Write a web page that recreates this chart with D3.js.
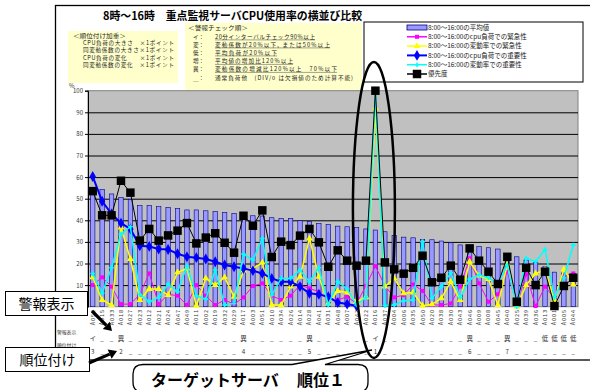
<!DOCTYPE html>
<html><head><meta charset="utf-8">
<script src="https://cdn.jsdelivr.net/npm/d3@7"></script>
<style>
body{margin:0;background:#fff}
svg{display:block}
text{font-family:"Noto Sans CJK JP","Noto Sans",sans-serif}
</style>
</head><body>
<svg id="c" width="590" height="390"></svg>
<script>
// ---------------- data ----------------
const servers = ["A052","A015","A033","A018","A027","A023","A012","A021","A024","A047","A049","A011","A002","A019","A032","A029","A017","A003","A051","A010","A034","A026","A014","A028","A041","A031","A048","A007","A042","A022","A016","A037","A004","A006","A035","A050","A020","A038","A030","A043","A046","A009","A008","A045","A040","A025","A039","A036","A013","A001","A005","A044"];
const avgLoad = [55,54.3,52.2,50.6,49.7,46.8,46.8,46.3,46,45.5,44.8,44.8,44.4,44,43.7,43.2,43,42.1,42,41.2,40.9,40.9,39.8,39.4,38.6,38.1,37.3,37,36.6,36,35.5,34.7,33,32.2,31.9,31.2,31,30.4,29.6,28.6,28.4,27.8,27.3,26.7,23.9,23.1,21.6,20.5,18.5,16,15.6,15.4];
const cpuUrgency = [10,13.6,9.3,1.2,1.2,5.7,15.4,1.2,5.7,5.1,0.8,10,5.1,0.8,3.1,1.2,4.3,9.6,10.8,5.1,3.1,5.1,10,8.5,6.9,3.1,3.1,4.6,1.5,9.7,18.8,9.7,4.3,5.4,10.3,7.3,0.8,0.8,1.5,9.3,22.4,10.8,2.3,5.7,16.2,0.8,15,0.3,9.3,3.9,14.2,15.4];
const varUrgency = [13.6,3.1,0.8,36.6,22.1,3.1,8.2,8.2,5.4,15.9,17.7,0.5,13.1,10,13.6,4.6,16.7,17.7,20.4,0.8,0.8,9.3,13.9,31.6,13.9,1.5,7.3,6.6,2.3,4.3,91.8,9.3,13.1,6.2,6.6,0.5,1.1,3.9,11.6,3.1,20.8,14.4,12.8,0.8,19.6,0,10,15.4,17,3.1,17.3,10.3];
const cpuImportance = [60.3,48.8,43,38.7,36,28.2,27.9,26.7,26.5,24.5,23.1,22.7,22.1,20.8,19.3,18.5,17.7,16.7,15.4,13.1,11.6,11.6,9.3,6.2,5.7,4.6,1.9,1.2,0.3,null,null,null,null,null,null,null,null,null,null,null,null,null,null,null,null,null,null,null,null,null,null,null];
const varImportance = [15.4,6.2,18,33.6,37,5.7,2.3,4.3,10.5,6.9,18.8,5.1,3.5,17,0.8,1.5,24.4,21.6,31.6,5.4,13.1,13.1,17,11.6,18,0.8,11.6,8.2,0.8,4.3,99,0.5,0.8,2.8,3.1,30.1,3.9,9.3,15.7,4.3,12.8,14.7,13.4,10.5,19.3,0,22.4,20.8,26.5,4.2,13.4,28.5];
const priority = [53.5,42.3,42.3,58.3,52.8,30.6,36,30.6,33,35.2,38.7,29.3,32,34,29.6,25,42.1,37.5,44.6,23,30.1,28.5,32.9,36,29.8,18.5,26.1,21.3,19,21.3,100,20.5,17.3,15.3,18,23.6,11.3,13.4,19,12.5,27,21.3,16.2,10.5,23.1,2.3,18,10,16.2,0.3,9.6,13.4];
const alertMarks = ["イ","_","_","異","_","_","_","_","_","_","_","_","_","_","_","_","異","_","_","_","_","_","_","異","_","_","_","_","_","_","イ","_","_","_","_","_","_","_","_","_","異","_","_","_","異","_","_","_","低","低","低","低"];
const rankMarks = ["3","_","_","2","_","_","_","_","_","_","_","_","_","_","_","_","4","_","_","_","_","_","_","5","_","_","_","_","_","_","1","_","_","_","_","_","_","_","_","_","6","_","_","_","7","_","_","_","_","_","_","_"];
const yTicks = [0,10,20,30,40,50,60,70,80,90,100];
const legendLabels = ["8:00～16:00の平均値","8:00～16:00のcpu負荷での緊急性","8:00～16:00の変動率での緊急性","8:00～16:00のcpu負荷での重要性","8:00～16:00の変動率での重要性","優先度"];
const titleText = "8時～16時　重点監視サーバCPU使用率の横並び比較";
const rankRuleHeader = "＜順位付け加重＞";
const rankRuleLines = ["CPU負荷の大きさ　×1ポイント","同変動係数の大きさ×1ポイント","CPU負荷の変化　　×1ポイント","同変動係数の変化　×1ポイント"];
const alertRuleHeader = "＜警報チェック順＞";
const alertRuleKeys = ["イ：","変：","低：","増：","異：","＿："];
const alertRuleTexts = ["20分インターバルチェック90%以上","変動係数が20%以下, または50%以上","平均負荷が20%以下","平均値の増加比120%以上","変動係数の増減比120%以上　70%以下","通常負荷他　(DIV/0 は欠損値のため計算不能)"];

// ---------------- chart ----------------
const svg = d3.select("#c");
const P = {l:88, r:578, t:90.7, b:306.7};
const idx = d3.range(servers.length);
const x = d3.scaleBand().domain(idx).range([P.l, P.r]).paddingInner(0.53).paddingOuter(0.265);
const xc = i => x(i) + x.bandwidth()/2;
const y = d3.scaleLinear().domain([0,100]).range([P.b, P.t]);

// outer frame
svg.append("rect").attr("x",55.5).attr("y",5.5).attr("width",600).attr("height",354.5)
  .attr("fill","#fff").attr("stroke","#000").attr("stroke-width",1.3);

// title
svg.append("text").attr("x",103).attr("y",20).attr("font-size",11).attr("font-weight","bold")
  .attr("textLength",259).attr("lengthAdjust","spacingAndGlyphs").text(titleText);

// rule box 1
svg.append("rect").attr("x",68).attr("y",31).attr("width",110).attr("height",52).attr("fill","#ffffcc");
const rb = svg.append("g").attr("font-size",5.6).attr("fill","#222");
rb.append("text").attr("x",73).attr("y",37.5).attr("textLength",53).attr("lengthAdjust","spacingAndGlyphs").text(rankRuleHeader);
const rbY = [45,52.3,59.6,67];
rankRuleLines.forEach((t,k)=>{
  rb.append("text").attr("x",83).attr("y",rbY[k]).attr("textLength",91).attr("lengthAdjust","spacing").text(t);
});
// rule box 2
svg.append("rect").attr("x",185).attr("y",23).attr("width",177).attr("height",69).attr("fill","#ffffcc");
const ab = svg.append("g").attr("font-size",5.6).attr("fill","#222");
ab.append("text").attr("x",188).attr("y",29.5).attr("textLength",60).attr("lengthAdjust","spacingAndGlyphs").text(alertRuleHeader);
const ay = [38.5,46.5,54.5,63,71,79.5];
const aw = [100,115,62,78,122,138];
alertRuleKeys.forEach((k,j)=>{
  ab.append("text").attr("x",193).attr("y",ay[j]).text(k);
  ab.append("text").attr("x",215).attr("y",ay[j]).attr("textLength",aw[j]).attr("lengthAdjust","spacing").text(alertRuleTexts[j]);
  if(j<5) ab.append("line").attr("x1",215).attr("x2",215+aw[j]).attr("y1",ay[j]+1.4).attr("y2",ay[j]+1.4).attr("stroke","#444").attr("stroke-width",0.5);
});

// plot area
svg.append("rect").attr("x",P.l).attr("y",P.t).attr("width",P.r-P.l).attr("height",P.b-P.t)
  .attr("fill","#c0c0c0").attr("stroke","#808080").attr("stroke-width",1);

// grid lines
svg.append("g").attr("transform",`translate(${P.l},0)`)
  .call(d3.axisLeft(y).tickValues(yTicks.filter(v=>v>0&&v<100)).tickSize(-(P.r-P.l)).tickFormat(""))
  .call(g=>g.select(".domain").remove())
  .call(g=>g.selectAll("line").attr("stroke","#000").attr("stroke-width",1));

// y axis
svg.append("g").attr("transform",`translate(${P.l},0)`)
  .call(d3.axisLeft(y).tickValues(yTicks).tickSize(3).tickPadding(2))
  .call(g=>g.select(".domain").attr("stroke","#000"))
  .call(g=>g.selectAll("text").attr("font-size",6).attr("fill","#333").attr("font-family","Liberation Sans, Arial, sans-serif"));
svg.append("text").attr("x",69).attr("y",88).attr("font-size",6).attr("fill","#333").text("%");

// bars
svg.append("g").selectAll("rect").data(avgLoad).join("rect")
  .attr("x",(d,i)=>x(i)).attr("width",x.bandwidth())
  .attr("y",d=>y(d)).attr("height",d=>y(0)-y(d))
  .attr("fill","#9999ff").attr("stroke","#000080").attr("stroke-width",0.6);

// series
const sym = (type,size)=>d3.symbol().type(type).size(size)();
const series = [
  {data:cpuUrgency, color:"#ff00ff", w:1, marker:()=>sym(d3.symbolSquare,16), mfill:"#ff00ff"},
  {data:varUrgency, color:"#ffff00", w:1.5, marker:()=>sym(d3.symbolTriangle,20), mfill:"#ffff00"},
  {data:cpuImportance, color:"#0000ff", w:2, marker:()=>sym(d3.symbolDiamond,34), mfill:"#0000ff"},
  {data:varImportance, color:"#00ffff", w:1.5, marker:()=>sym(d3.symbolCross,12), mfill:"#00ffff"},
  {data:priority, color:"#000000", w:1, marker:()=>sym(d3.symbolSquare,72), mfill:"#000000"}
];
const line = d3.line().defined(d=>d[1]!=null).x(d=>xc(d[0])).y(d=>y(d[1]));
series.forEach(s=>{
  const pts = s.data.map((v,i)=>[i,v]);
  const g = svg.append("g");
  g.append("path").attr("d",line(pts)).attr("fill","none").attr("stroke",s.color).attr("stroke-width",s.w);
  g.selectAll("path.m").data(pts.filter(p=>p[1]!=null)).join("path").attr("class","m")
    .attr("transform",p=>`translate(${xc(p[0])},${y(p[1])})`)
    .attr("d",s.marker()).attr("fill",s.mfill);
});

// x labels
svg.append("g").selectAll("text").data(servers).join("text")
  .attr("transform",(d,i)=>`translate(${xc(i)+2},309) rotate(-90)`)
  .attr("text-anchor","end").attr("font-size",5.6).attr("letter-spacing",0.9).attr("fill","#333")
  .attr("font-family","Liberation Sans, Arial, sans-serif").text(d=>d);

// alert & rank rows
svg.append("text").attr("x",57).attr("y",334).attr("font-size",4.8).attr("fill","#333").text("警報表示");
svg.append("text").attr("x",57).attr("y",347).attr("font-size",4.8).attr("fill","#333").text("順位付け");
svg.append("g").selectAll("text").data(alertMarks).join("text")
  .attr("x",(d,i)=>xc(i)).attr("y",341).attr("text-anchor","middle").attr("font-size",6.5).attr("fill","#333").text(d=>d);
svg.append("g").selectAll("text").data(rankMarks).join("text")
  .attr("x",(d,i)=>xc(i)).attr("y",354).attr("text-anchor","middle").attr("font-size",6.2).attr("fill","#333")
  .attr("font-family","Liberation Sans, Arial, sans-serif").text(d=>d);

// legend
const L = svg.append("g");
L.append("rect").attr("x",364).attr("y",22).attr("width",219).attr("height",60).attr("fill","#fff").attr("stroke","#000").attr("stroke-width",1);
legendLabels.forEach((t,k)=>{
  const cy = 27.5 + k*9.3;
  if(k===0){
    L.append("rect").attr("x",407).attr("y",cy-2.5).attr("width",20).attr("height",5).attr("fill","#9999ff").attr("stroke","#000080").attr("stroke-width",0.8);
  } else {
    const s = series[k-1];
    L.append("line").attr("x1",407).attr("x2",427).attr("y1",cy).attr("y2",cy).attr("stroke",s.color).attr("stroke-width",Math.max(1.5,s.w));
    L.append("path").attr("transform",`translate(417,${cy})`).attr("d",s.marker()).attr("fill",s.mfill);
  }
  L.append("text").attr("x",428).attr("y",cy+2.3).attr("font-size",6.5).attr("fill","#222").text(t);
});

// ellipse around target server
svg.append("ellipse").attr("cx",xc(30)-1.5).attr("cy",210).attr("rx",21).attr("ry",148)
  .attr("fill","none").attr("stroke","#000").attr("stroke-width",2.5);

// callout boxes
function arrow(x1,y1,x2,y2){
  const a = Math.atan2(y2-y1,x2-x1), hl=8, hw=5;
  const bx = x2-hl*Math.cos(a), by = y2-hl*Math.sin(a);
  svg.append("line").attr("x1",x1).attr("y1",y1).attr("x2",bx).attr("y2",by).attr("stroke","#000").attr("stroke-width",3.2);
  svg.append("path").attr("d",`M${x2},${y2}L${bx+hw*Math.sin(a)},${by-hw*Math.cos(a)}L${bx-hw*Math.sin(a)},${by+hw*Math.cos(a)}Z`).attr("fill","#000");
}
svg.append("rect").attr("x",5.5).attr("y",291.5).attr("width",82).attr("height",24).attr("fill","#fff").attr("stroke","#000").attr("stroke-width",1);
svg.append("text").attr("x",46.5).attr("y",309).attr("text-anchor","middle").attr("font-size",14).text("警報表示");
svg.append("rect").attr("x",5.5).attr("y",347.5).attr("width",84).attr("height",24).attr("fill","#fff").attr("stroke","#000").attr("stroke-width",1);
svg.append("text").attr("x",47.5).attr("y",365).attr("text-anchor","middle").attr("font-size",14).text("順位付け");
arrow(92,311,112,331);
arrow(89,363,117,351);

// target callout
svg.append("path")
  .attr("d","M143,364.5 L292,364.5 L372,350 L325,364.5 L358,364.5 Q368,364.5 368,374 L368,382 Q368,392 358,392 L143,392 Q133,392 133,382 L133,374 Q133,364.5 143,364.5 Z")
  .attr("fill","#fff").attr("stroke","#000").attr("stroke-width",1.3);
svg.append("text").attr("x",151).attr("y",386).attr("font-size",16).attr("font-weight","bold").text("ターゲットサーバ");
svg.append("text").attr("x",297).attr("y",386).attr("font-size",16).attr("font-weight","bold").text("順位１");
</script>
</body></html>
